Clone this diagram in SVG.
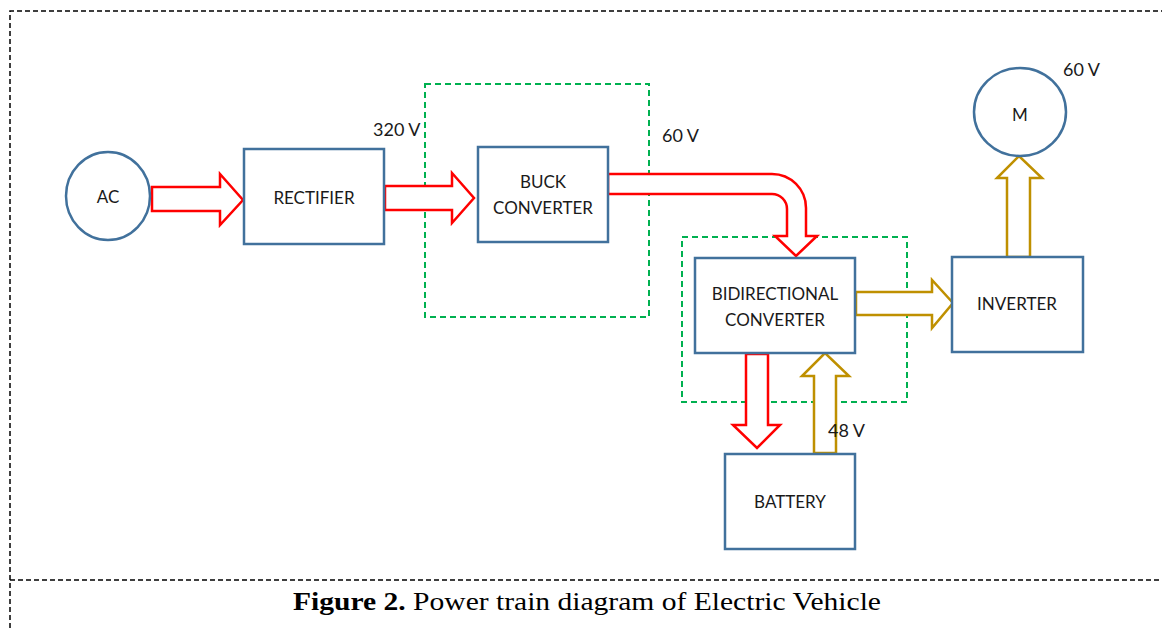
<svg xmlns="http://www.w3.org/2000/svg" width="1162" height="628" viewBox="0 0 1162 628">
<style>
.frame{fill:none;stroke:#000;stroke-width:1.5;stroke-dasharray:5 3}
.blk{fill:#fff;stroke:#41719C;stroke-width:2.5}
.grp{fill:none;stroke:#00B050;stroke-width:2;stroke-dasharray:6 4}
.red{fill:#fff;stroke:#FF0000;stroke-width:2.5;stroke-linejoin:miter}
.gold{fill:#fff;stroke:#BF9000;stroke-width:2.5;stroke-linejoin:miter}
.lbl{font-family:Lato,"Liberation Sans",sans-serif;font-size:17px;fill:#1a1a1a;text-anchor:middle}
.v{font-family:Lato,"Liberation Sans",sans-serif;font-size:18px;fill:#1a1a1a}
.cap{font-family:"Liberation Serif",serif;font-size:26px;fill:#000}
</style>
<rect width="1162" height="628" fill="#fff"/>
<g id="frame">
<path class="frame" d="M10 628 V11 H1162"/>
<path class="frame" d="M10 580 H1162"/>
</g>
<g id="groups">
<rect class="grp" x="425" y="84" width="224" height="233"/>
<rect class="grp" x="682" y="237" width="225" height="165"/>
</g>
<g id="connectors">
<path class="red" d="M152 187 H220 V174 L243 200 L220 225 V211 H152 Z"/>
<path class="red" d="M385 186 H452 V173 L474 198 L452 223 V210 H385 Z"/>
<path class="red" d="M608 174 H772 A34 34 0 0 1 806 208 V236 H817 L796 256 L775 236 H787 V209 A15 15 0 0 0 772 194 H608 Z"/>
<path class="gold" d="M856 292 H932 V280 L953 303 L932 328 V315 H856 Z"/>
<path class="red" d="M746 354 V425 H733 L757 448 L780 425 H768 V354 Z"/>
<path class="gold" d="M814 453 V376 H802 L825 353 L849 376 H836 V453 Z"/>
<path class="gold" d="M1007 257 V178 H997 L1019 156 L1042 178 H1030 V257 Z"/>
</g>
<g id="ac"><ellipse class="blk" cx="108" cy="196" rx="42" ry="44"/><text class="lbl" x="108" y="203">AC</text></g>
<g id="rectifier"><rect class="blk" x="244" y="149" width="140" height="95"/><text class="lbl" x="314" y="204">RECTIFIER</text></g>
<g id="buck"><rect class="blk" x="478" y="147" width="130" height="95"/><text class="lbl" x="543" y="188">BUCK</text><text class="lbl" x="543" y="214">CONVERTER</text></g>
<g id="bidirectional"><rect class="blk" x="695" y="258" width="160" height="95"/><text class="lbl" x="775" y="300">BIDIRECTIONAL</text><text class="lbl" x="775" y="326">CONVERTER</text></g>
<g id="inverter"><rect class="blk" x="952" y="257" width="131" height="95"/><text class="lbl" x="1017" y="310">INVERTER</text></g>
<g id="battery"><rect class="blk" x="725" y="454" width="130" height="95"/><text class="lbl" x="790" y="508">BATTERY</text></g>
<g id="motor"><ellipse class="blk" cx="1020" cy="112" rx="46" ry="44"/><text class="lbl" x="1020" y="121">M</text></g>
<g id="labels">
<text class="v" x="373" y="136">320 V</text>
<text class="v" x="662" y="142">60 V</text>
<text class="v" x="1063" y="76">60 V</text>
<text class="v" x="828" y="437">48 V</text>
</g>
<text class="cap" x="293" y="610" textLength="588" lengthAdjust="spacingAndGlyphs"><tspan font-weight="bold">Figure 2.</tspan> Power train diagram of Electric Vehicle</text>
</svg>
